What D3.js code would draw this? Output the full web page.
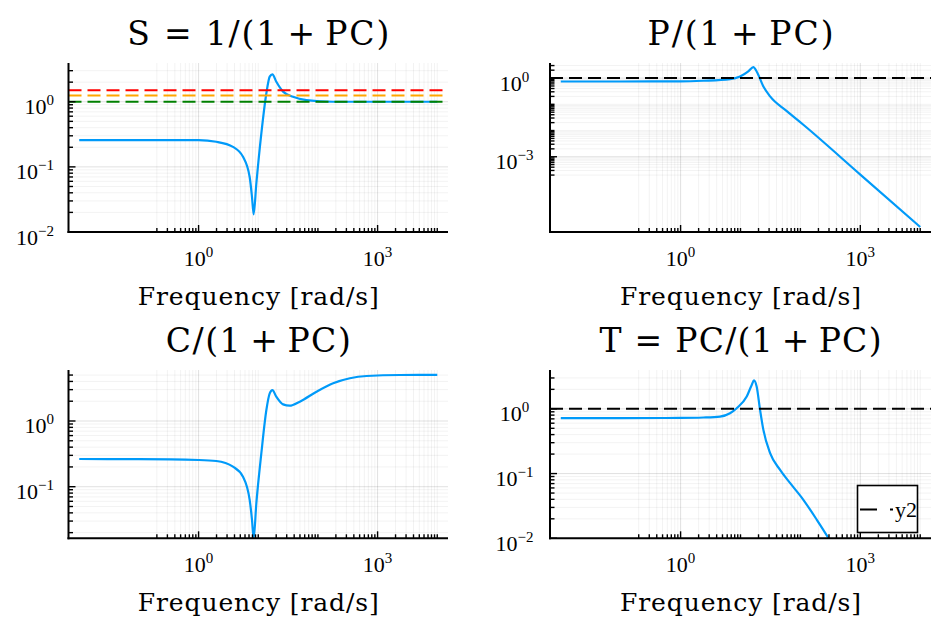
<!DOCTYPE html>
<html>
<head>
<meta charset="utf-8">
<script src="https://cdn.jsdelivr.net/npm/d3@7"></script>
<style>
  body { margin: 0; background: #fff; }
  svg { display: block; }
</style>
</head>
<body>
<svg id="fig" width="935" height="622"></svg>
<script>
// ---- Gang-of-four magnitude responses (frequency in rad/s, magnitude linear) ----
const sFreq = [0.01, 0.1, 1, 1.98, 3.77, 5.55, 7.18, 7.85, 8.37, 9.29, 11.27, 13.68, 15.56, 17.26, 20.1, 26.1, 38.3, 64.3, 180, 1000, 10000];
const sMag  = [0.258, 0.258, 0.257, 0.243, 0.203, 0.143, 0.070, 0.0347, 0.0187, 0.0556, 0.327, 1.35, 2.43, 2.64, 2.03, 1.43, 1.19, 1.06, 1.0, 1.0, 1.0];

const pFreq = [0.01, 0.1, 1, 2.39, 6.68, 9.82, 13.5, 16.4, 18.6, 24.1, 31.2, 59.3, 112, 1000, 10000];
const pMag  = [0.741, 0.741, 0.745, 0.789, 0.912, 1.148, 1.79, 2.63, 1.78, 0.479, 0.2, 0.055, 0.0166, 2.09e-4, 2.09e-6];

const cFreq = [0.01, 0.1, 1, 1.98, 3.77, 5.55, 7.18, 7.85, 8.37, 9.29, 11.27, 13.68, 15.56, 17.26, 20.1, 26.1, 33.7, 49.7, 94.6, 180, 343, 655, 2371, 10000];
const cMag  = [0.264, 0.263, 0.255, 0.246, 0.202, 0.142, 0.063, 0.0316, 0.0165, 0.056, 0.324, 1.47, 2.63, 2.95, 2.34, 1.79, 1.71, 1.97, 2.79, 3.75, 4.47, 4.84, 5.01, 5.02];

const tFreq = [0.01, 0.1, 1, 2.39, 4.55, 6.68, 8.65, 12.7, 15.4, 16.8, 18.6, 21.2, 24.1, 31.2, 45.8, 67.5, 112, 188, 295, 1000];
const tMag  = [0.718, 0.718, 0.724, 0.735, 0.76, 0.857, 1.023, 1.55, 2.34, 2.75, 2.21, 0.966, 0.473, 0.207, 0.114, 0.071, 0.0393, 0.0193, 0.01, 0.00126];

// Reference levels
const sLevels = [1.0, 1.25, 1.5];
const sLevelColors = ["#008000", "#ffa500", "#ff0000"];
const unityLevel = [1.0];

// Axis limits and ticks
const freqLimits = [Math.pow(10, -2.18), Math.pow(10, 4.18)];
const freqTicks = [1, 1000];
const sLimits = [0.01, Math.pow(10, 0.595)];
const pLimits = [Math.pow(10, -5.87), Math.pow(10, 0.575)];
const cLimits = [Math.pow(10, -1.785), Math.pow(10, 0.776)];
const tLimits = [0.01, Math.pow(10, 0.60)];
const sTicks = [0.01, 0.1, 1];
const pTicks = [0.001, 1];
const cTicks = [0.1, 1];
const tTicks = [0.01, 0.1, 1];

const titles = ["S = 1/(1\u2009+\u2009PC)", "P/(1\u2009+\u2009PC)", "C/(1\u2009+\u2009PC)", "T = PC/(1\u2009+\u2009PC)"];
const xLabel = "Frequency [rad/s]";
const legendLabels = ["y2"];

// ---- layout ----
const svg = d3.select("#fig");
const LINE = "#009af9";
const TICKFONT = "'Liberation Serif', 'Times New Roman', serif";
const TEXTFONT = "'DejaVu Serif', serif";

const panels = [
  { freq: sFreq, mag: sMag, ylim: sLimits, yticks: sTicks, title: titles[0], titleLen: 262,
    x0: 68.5, x1: 448, y0: 63, y1: 232, labelMode: "end",
    levels: sLevels, levelColors: sLevelColors },
  { freq: pFreq, mag: pMag, ylim: pLimits, yticks: pTicks, title: titles[1], titleLen: 186,
    x0: 550, x1: 931, y0: 63, y1: 232, labelMode: "middle",
    levels: unityLevel, levelColors: ["#000"] },
  { freq: cFreq, mag: cMag, ylim: cLimits, yticks: cTicks, title: titles[2], titleLen: 185,
    x0: 68.5, x1: 448, y0: 370, y1: 538.3, labelMode: "end",
    levels: [], levelColors: [] },
  { freq: tFreq, mag: tMag, ylim: tLimits, yticks: tTicks, title: titles[3], titleLen: 282,
    x0: 550, x1: 931, y0: 370, y1: 538.3, labelMode: "middle",
    levels: unityLevel, levelColors: ["#000"], legend: true }
];

// minor ticks at 2..10 x 10^n, one decade past the outer major ticks
function minorTicks(majors, domain) {
  const lo = Math.round(Math.log10(d3.min(majors))) - 1;
  const hi = Math.round(Math.log10(d3.max(majors)));
  const out = [];
  for (let n = lo; n <= hi; n++) {
    for (let k = 2; k <= 10; k++) {
      const v = k * Math.pow(10, n);
      const isMajor = majors.some(m => Math.abs(Math.log10(m) - Math.log10(v)) < 1e-9);
      if (!isMajor && v >= domain[0] && v <= domain[1]) out.push(v);
    }
  }
  return out;
}

function expLabel(sel, v) {
  const e = Math.round(Math.log10(v));
  sel.append("tspan").text("10");
  sel.append("tspan").attr("dy", -9).attr("font-size", 15)
    .text(e < 0 ? "\u2212" + (-e) : String(e));
}

panels.forEach((p, i) => {
  const x = d3.scaleLog().domain(freqLimits).range([p.x0, p.x1]);
  const y = d3.scaleLog().domain(p.ylim).range([p.y1, p.y0]);
  const g = svg.append("g");

  const xMinor = minorTicks(freqTicks, freqLimits);
  const yMinor = minorTicks(p.yticks, p.ylim);

  // grid
  const grid = g.append("g");
  grid.selectAll(".vm").data(xMinor).join("line")
    .attr("x1", d => x(d)).attr("x2", d => x(d)).attr("y1", p.y0).attr("y2", p.y1)
    .attr("stroke", "#000").attr("stroke-opacity", 0.05).attr("stroke-width", 1);
  grid.selectAll(".hm").data(yMinor).join("line")
    .attr("y1", d => y(d)).attr("y2", d => y(d)).attr("x1", p.x0).attr("x2", p.x1)
    .attr("stroke", "#000").attr("stroke-opacity", 0.05).attr("stroke-width", 1);
  grid.selectAll(".vM").data(freqTicks).join("line")
    .attr("x1", d => x(d)).attr("x2", d => x(d)).attr("y1", p.y0).attr("y2", p.y1)
    .attr("stroke", "#000").attr("stroke-opacity", 0.12).attr("stroke-width", 1);
  grid.selectAll(".hM").data(p.yticks).join("line")
    .attr("y1", d => y(d)).attr("y2", d => y(d)).attr("x1", p.x0).attr("x2", p.x1)
    .attr("stroke", "#000").attr("stroke-opacity", 0.12).attr("stroke-width", 1);

  // clip region
  const clipId = "clip" + i;
  svg.append("clipPath").attr("id", clipId).append("rect")
    .attr("x", p.x0).attr("y", p.y0).attr("width", p.x1 - p.x0).attr("height", p.y1 - p.y0);

  // response curve
  const pts = p.freq.map((f, j) => [f, p.mag[j]]);
  const line = d3.line().x(d => x(d[0])).y(d => y(d[1])).curve(d3.curveMonotoneX);
  g.append("path").datum(pts).attr("d", line)
    .attr("fill", "none").attr("stroke", LINE).attr("stroke-width", 2.2)
    .attr("stroke-linejoin", "round")
    .attr("clip-path", `url(#${clipId})`);

  // reference levels (dashed)
  p.levels.forEach((lv, j) => {
    g.append("line")
      .attr("x1", p.x0).attr("x2", p.x1).attr("y1", y(lv)).attr("y2", y(lv))
      .attr("stroke", p.levelColors[j]).attr("stroke-width", 2)
      .attr("stroke-dasharray", "13,6");
  });

  // ticks
  const ax = g.append("g").attr("stroke", "#000").attr("stroke-width", 1.4);
  ax.selectAll(".xt").data(freqTicks).join("line")
    .attr("x1", d => x(d)).attr("x2", d => x(d)).attr("y1", p.y1).attr("y2", p.y1 - 7);
  ax.selectAll(".xmt").data(xMinor).join("line")
    .attr("x1", d => x(d)).attr("x2", d => x(d)).attr("y1", p.y1).attr("y2", p.y1 - 4);
  ax.selectAll(".yt").data(p.yticks).join("line")
    .attr("y1", d => y(d)).attr("y2", d => y(d)).attr("x1", p.x0).attr("x2", p.x0 + 7);
  ax.selectAll(".ymt").data(yMinor).join("line")
    .attr("y1", d => y(d)).attr("y2", d => y(d)).attr("x1", p.x0).attr("x2", p.x0 + 4.5);

  // spines
  g.append("line").attr("x1", p.x0).attr("x2", p.x0).attr("y1", p.y0).attr("y2", p.y1 + 1)
    .attr("stroke", "#000").attr("stroke-width", 2);
  g.append("line").attr("x1", p.x0 - 1).attr("x2", p.x1).attr("y1", p.y1).attr("y2", p.y1)
    .attr("stroke", "#000").attr("stroke-width", 2);

  // tick labels
  freqTicks.forEach(v => {
    const t = g.append("text").attr("x", x(v)).attr("y", p.y1 + 34)
      .attr("text-anchor", "middle").attr("font-family", TICKFONT).attr("font-size", 22);
    expLabel(t, v);
  });
  p.yticks.forEach(v => {
    const t = g.append("text")
      .attr("x", p.labelMode === "end" ? p.x0 - 14.5 : p.x0 - 35.5)
      .attr("y", y(v) + 12.5)
      .attr("text-anchor", p.labelMode).attr("font-family", TICKFONT).attr("font-size", 22);
    expLabel(t, v);
  });

  // title and axis label
  const cx = (p.x0 + p.x1) / 2;
  g.append("text").attr("x", cx).attr("y", p.y0 - 18)
    .attr("text-anchor", "middle").attr("font-family", TEXTFONT).attr("font-size", 33)
    .attr("textLength", p.titleLen).attr("lengthAdjust", "spacing")
    .text(p.title);
  g.append("text").attr("x", cx).attr("y", p.y1 + 73)
    .attr("text-anchor", "middle").attr("font-family", TEXTFONT).attr("font-size", 25)
    .attr("textLength", 241).attr("lengthAdjust", "spacing")
    .text(xLabel);

  // legend
  if (p.legend) {
    const lg = g.append("g");
    lg.append("rect").attr("x", 857.5).attr("y", 485.5).attr("width", 60).attr("height", 47)
      .attr("fill", "#fff").attr("stroke", "#000").attr("stroke-width", 1.6);
    lg.append("line").attr("x1", 860).attr("x2", 893).attr("y1", 509.5).attr("y2", 509.5)
      .attr("stroke", "#000").attr("stroke-width", 2).attr("stroke-dasharray", "17,13");
    lg.append("text").attr("x", 895).attr("y", 516.5)
      .attr("font-family", TICKFONT).attr("font-size", 22).text(legendLabels[0]);
  }
});
</script>
</body>
</html>
